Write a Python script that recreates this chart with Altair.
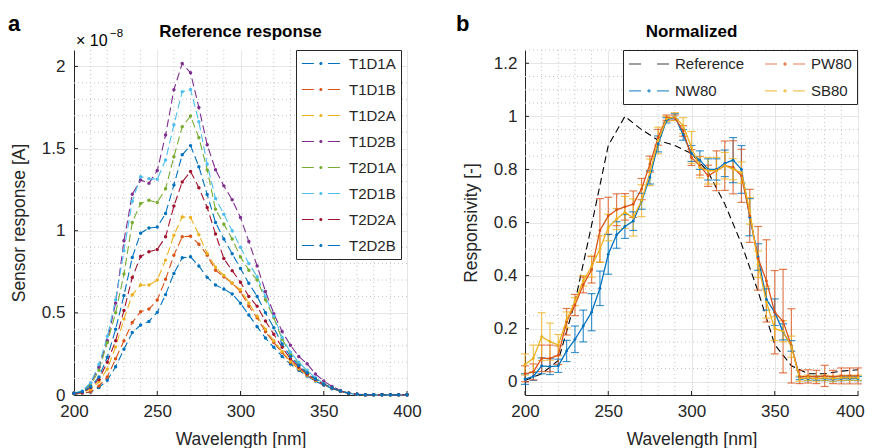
import altair as alt
import pandas as pd

FONT = "Liberation Sans"
TXT = "#262626"

# ---------------- data ----------------
wavelength = list(range(200, 405, 5))

sensor_names = ["T1D1A", "T1D1B", "T1D2A", "T1D2B", "T2D1A", "T2D1B", "T2D2A", "T2D2B"]
sensor_colors = ["#0072BD", "#D95319", "#EDB120", "#7E2F8E", "#77AC30", "#4DBEEE", "#A2142F", "#0072BD"]

t1d1a = [0.008, 0.012, 0.017, 0.045, 0.090, 0.172, 0.278, 0.380, 0.426, 0.448, 0.503, 0.611, 0.740, 0.835, 0.841,
         0.785, 0.716, 0.669, 0.645, 0.615, 0.558, 0.487, 0.416, 0.347, 0.290, 0.235, 0.188, 0.150, 0.115, 0.085,
         0.060, 0.038, 0.022, 0.010, 0.004, 0.002, 0.001, 0.001, 0.001, 0.001, 0.001]
t1d1b = [0.008, 0.012, 0.020, 0.055, 0.110, 0.220, 0.330, 0.442, 0.507, 0.523, 0.578, 0.704, 0.851, 0.963, 0.967,
         0.918, 0.851, 0.760, 0.720, 0.680, 0.630, 0.540, 0.470, 0.385, 0.320, 0.258, 0.200, 0.158, 0.120, 0.088,
         0.062, 0.040, 0.023, 0.010, 0.004, 0.002, 0.001, 0.001, 0.001, 0.001, 0.001]
t1d2a = [0.010, 0.015, 0.035, 0.080, 0.159, 0.293, 0.463, 0.610, 0.669, 0.669, 0.700, 0.821, 0.973, 1.084, 1.080,
         0.975, 0.861, 0.777, 0.728, 0.682, 0.640, 0.560, 0.480, 0.400, 0.330, 0.265, 0.205, 0.160, 0.122, 0.090,
         0.064, 0.041, 0.024, 0.011, 0.004, 0.002, 0.001, 0.001, 0.001, 0.001, 0.001]
t1d2b = [0.012, 0.020, 0.070, 0.170, 0.330, 0.560, 0.939, 1.222, 1.309, 1.289, 1.366, 1.582, 1.858, 2.018, 1.961,
         1.750, 1.523, 1.371, 1.273, 1.188, 1.080, 0.934, 0.785, 0.630, 0.495, 0.387, 0.303, 0.234, 0.190, 0.128,
         0.085, 0.052, 0.028, 0.012, 0.005, 0.002, 0.001, 0.001, 0.001, 0.001, 0.001]
t2d1a = [0.012, 0.020, 0.060, 0.150, 0.320, 0.500, 0.736, 1.050, 1.166, 1.185, 1.172, 1.255, 1.450, 1.633, 1.698,
         1.566, 1.370, 1.130, 1.040, 0.950, 0.840, 0.760, 0.700, 0.580, 0.470, 0.340, 0.250, 0.190, 0.140, 0.100,
         0.068, 0.043, 0.025, 0.011, 0.004, 0.002, 0.001, 0.001, 0.001, 0.001, 0.001]
t2d1b = [0.012, 0.025, 0.075, 0.185, 0.357, 0.580, 0.878, 1.180, 1.329, 1.317, 1.313, 1.430, 1.645, 1.846, 1.860,
         1.663, 1.405, 1.196, 1.100, 1.000, 0.900, 0.800, 0.720, 0.600, 0.480, 0.350, 0.260, 0.200, 0.150, 0.105,
         0.070, 0.044, 0.026, 0.011, 0.004, 0.002, 0.001, 0.001, 0.001, 0.001, 0.001]
t2d2a = [0.010, 0.015, 0.045, 0.095, 0.200, 0.330, 0.514, 0.715, 0.843, 0.872, 0.886, 0.963, 1.150, 1.297, 1.361,
         1.262, 1.141, 0.980, 0.831, 0.757, 0.686, 0.600, 0.540, 0.450, 0.370, 0.290, 0.220, 0.170, 0.128, 0.094,
         0.065, 0.042, 0.024, 0.011, 0.004, 0.002, 0.001, 0.001, 0.001, 0.001, 0.001]
t2d2b = [0.010, 0.020, 0.050, 0.110, 0.230, 0.400, 0.605, 0.837, 0.985, 1.016, 1.022, 1.105, 1.278, 1.462, 1.518,
         1.390, 1.220, 1.050, 0.950, 0.860, 0.770, 0.680, 0.600, 0.500, 0.410, 0.310, 0.235, 0.180, 0.135, 0.097,
         0.066, 0.042, 0.024, 0.011, 0.004, 0.002, 0.001, 0.001, 0.001, 0.001, 0.001]
sensor_values = [t1d1a, t1d1b, t1d2a, t1d2b, t2d1a, t2d1b, t2d2a, t2d2b]

ref_wavelength = list(range(200, 410, 10))
ref_values = [0.005, 0.030, 0.080, 0.300, 0.590, 0.890, 1.000, 0.950, 0.910, 0.890, 0.860, 0.790, 0.670,
              0.520, 0.340, 0.140, 0.060, 0.030, 0.030, 0.040, 0.045]

norm_names = ["Reference", "NW80", "PW80", "SB80"]
norm_colors = ["#000000", "#0072BD", "#D95319", "#EDB120"]

nw80 = [0.010, 0.020, 0.060, 0.057, 0.060, 0.116, 0.160, 0.210, 0.262, 0.352, 0.480, 0.553, 0.585, 0.605, 0.680,
        0.770, 0.896, 0.985, 1.000, 0.930, 0.860, 0.835, 0.800, 0.800, 0.823, 0.835, 0.800, 0.620, 0.470, 0.310,
        0.262, 0.188, 0.135, 0.013, 0.012, 0.013, 0.012, 0.010, 0.012, 0.013, 0.012]
nw80_err = [0.020, 0.015, 0.030, 0.030, 0.025, 0.040, 0.050, 0.060, 0.070, 0.065, 0.075, 0.050, 0.045, 0.035, 0.030,
            0.025, 0.030, 0.010, 0.010, 0.020, 0.030, 0.035, 0.040, 0.040, 0.050, 0.085, 0.090, 0.070, 0.050, 0.040,
            0.050, 0.030, 0.020, 0.005, 0.008, 0.008, 0.008, 0.008, 0.008, 0.008, 0.008]
pw80 = [0.030, 0.037, 0.088, 0.088, 0.100, 0.226, 0.289, 0.365, 0.422, 0.570, 0.625, 0.648, 0.659, 0.669, 0.726,
        0.820, 0.921, 0.995, 0.995, 0.945, 0.845, 0.814, 0.776, 0.795, 0.814, 0.808, 0.776, 0.625, 0.465, 0.380,
        0.262, 0.228, 0.135, 0.018, 0.020, 0.018, 0.022, 0.018, 0.022, 0.022, 0.022]
pw80_err = [0.030, 0.030, 0.050, 0.050, 0.035, 0.050, 0.040, 0.030, 0.050, 0.120, 0.070, 0.060, 0.050, 0.050, 0.040,
            0.030, 0.030, 0.010, 0.010, 0.020, 0.030, 0.035, 0.040, 0.075, 0.093, 0.100, 0.100, 0.100, 0.120, 0.155,
            0.157, 0.195, 0.140, 0.025, 0.025, 0.025, 0.040, 0.025, 0.030, 0.030, 0.030]
sb80 = [0.065, 0.088, 0.170, 0.151, 0.138, 0.233, 0.302, 0.380, 0.434, 0.500, 0.581, 0.613, 0.638, 0.619, 0.682,
        0.789, 0.909, 0.990, 0.999, 0.965, 0.883, 0.808, 0.795, 0.795, 0.814, 0.801, 0.788, 0.644, 0.443, 0.300,
        0.200, 0.190, 0.132, 0.012, 0.015, 0.012, 0.015, 0.012, 0.015, 0.015, 0.015]
sb80_err = [0.040, 0.050, 0.090, 0.070, 0.040, 0.030, 0.015, 0.020, 0.040, 0.050, 0.050, 0.040, 0.060, 0.070, 0.060,
            0.050, 0.050, 0.010, 0.015, 0.030, 0.060, 0.040, 0.050, 0.050, 0.050, 0.040, 0.040, 0.050, 0.050, 0.060,
            0.045, 0.040, 0.040, 0.010, 0.010, 0.010, 0.010, 0.010, 0.010, 0.010, 0.010]

x_ticks = [200, 250, 300, 350, 400]
x_minor = [v for v in range(210, 400, 10) if v % 50 != 0]
yl_ticks = [0, 0.5, 1, 1.5, 2]
yl_minor = [round(i * 0.1, 2) for i in range(1, 21) if i % 5 != 0]
yr_ticks = [0, 0.2, 0.4, 0.6, 0.8, 1.0, 1.2]
yr_minor = [round(i * 0.05, 2) for i in range(1, 26) if i % 4 != 0]

# ---------------- tables ----------------
left_rows = []
for name, vals in zip(sensor_names, sensor_values):
    for w, v in zip(wavelength, vals):
        left_rows.append({"wl": w, "sensor": name, "value": v})
left_df = pd.DataFrame(left_rows)

ref_df = pd.DataFrame({"wl": ref_wavelength, "series": "Reference", "value": ref_values})
norm_rows = []
for name, vals, errs in [("NW80", nw80, nw80_err), ("PW80", pw80, pw80_err), ("SB80", sb80, sb80_err)]:
    for w, v, e in zip(wavelength, vals, errs):
        norm_rows.append({"wl": w, "series": name, "value": v, "lo": v - e, "hi": v + e})
norm_df = pd.DataFrame(norm_rows)

W, H = 333, 345

xs = alt.Scale(domain=[200, 400], nice=False, zero=False)
ysl = alt.Scale(domain=[0, 2.1], nice=False, zero=False)
ysr = alt.Scale(domain=[-0.05, 1.25], nice=False, zero=False)


def XL(field):
    return alt.X(field, type="quantitative", scale=xs,
                 axis=alt.Axis(values=x_ticks, title="Wavelength [nm]", format="d", grid=True,
                               labelFlush=False, labelPadding=8, titlePadding=11))


def XR(field):
    # the last label is nudged slightly inward so the figure fits the page width
    return alt.X(field, type="quantitative", scale=xs,
                 axis=alt.Axis(values=x_ticks, title="Wavelength [nm]", format="d", grid=True,
                               labelFlush=False, labelPadding=8, titlePadding=11,
                               labelOffset={"condition": {"test": "datum.value == 400", "value": -8},
                                            "value": 0}))


def YL(field):
    return alt.Y(field, type="quantitative", scale=ysl,
                 axis=alt.Axis(values=yl_ticks, format="~g", title="Sensor response [A]", grid=True,
                               labelPadding=9, titlePadding=13))


def YR(field):
    return alt.Y(field, type="quantitative", scale=ysr,
                 axis=alt.Axis(values=yr_ticks, format="~g", title="Responsivity [-]", grid=True,
                               labelPadding=8, titlePadding=13))


minor_style = dict(color="#c4c4c4", strokeDash=[1, 3], strokeWidth=1)


def minor_grid(xvals, yvals, Xf, Yf):
    gx = alt.Chart(pd.DataFrame({"v": xvals})).mark_rule(**minor_style).encode(x=Xf("v"))
    gy = alt.Chart(pd.DataFrame({"v": yvals})).mark_rule(**minor_style).encode(y=Yf("v"))
    tx = alt.Chart(pd.DataFrame({"v": x_ticks})).mark_rule(color=TXT, strokeWidth=1).encode(
        x=Xf("v"), y=alt.value(H), y2=alt.value(H - 4))
    return gx, gy, tx


def yticks(vals, Yf):
    return alt.Chart(pd.DataFrame({"v": vals})).mark_rule(color=TXT, strokeWidth=1).encode(
        y=Yf("v"), x=alt.value(0), x2=alt.value(4))


def label(text, x, y, size, weight="bold", align="left"):
    return alt.Chart(pd.DataFrame({"t": [text]})).mark_text(
        font=FONT, fontSize=size, fontWeight=weight, align=align, baseline="alphabetic", color="#000000"
    ).encode(text="t:N", x=alt.value(x), y=alt.value(y))


# legend symbols: a long dashed stroke starting at the symbol origin, with a small dot in the middle
LEG_LINE = "M-1,0H4"
LEG_DOT = "M-1,0H4M1.37,0A0.13,0.13,0,1,1,1.63,0A0.13,0.13,0,1,1,1.37,0"

# ---------------- left panel ----------------
lcolor = alt.Scale(domain=sensor_names, range=sensor_colors)
gx, gy, tx = minor_grid(x_minor, yl_minor, XL, YL)
l_lines = alt.Chart(left_df).mark_line(strokeDash=[8, 4], strokeWidth=1.1).encode(
    x=XL("wl"), y=YL("value"),
    color=alt.Color("sensor:N", scale=lcolor, sort=sensor_names,
                    legend=alt.Legend(title=None, orient="none", legendX=222, legendY=0,
                                      symbolType=LEG_DOT, symbolSize=231, symbolDash=[12, 14],
                                      symbolStrokeWidth=1.2, symbolOpacity=1, labelFontSize=15,
                                      labelFont=FONT, labelColor=TXT, labelOffset=31, padding=5,
                                      rowPadding=9, strokeColor="#262626", fillColor="white")),
)
l_pts = alt.Chart(left_df).mark_circle(size=12, opacity=1).encode(
    x=XL("wl"), y=YL("value"), color=alt.Color("sensor:N", scale=lcolor, sort=sensor_names))

left = alt.layer(
    gx, gy, tx, yticks(yl_ticks, YL), l_lines, l_pts,
    label("Reference response", W / 2, -13, 17, align="center"),
    label("a", -66, -19, 22),
    label("\u00d7 10", 2, -4, 16, weight="normal"),
    label("\u22128", 36, -13, 11.5, weight="normal"),
).properties(width=W, height=H)

# ---------------- right panel ----------------
rcolor = alt.Scale(domain=norm_names, range=norm_colors)
gx2, gy2, tx2 = minor_grid(x_minor, yr_minor, XR, YR)
shape_expr = "datum.value === 'Reference' ? '" + LEG_LINE + "' : '" + LEG_DOT + "'"
r_ref = alt.Chart(ref_df).mark_line(strokeDash=[7, 4], strokeWidth=1.1).encode(
    x=XR("wl"), y=YR("value"),
    color=alt.Color("series:N", scale=rcolor,
                    sort=["Reference", "PW80", "NW80", "SB80"],
                    legend=alt.Legend(title=None, orient="none", legendX=98, legendY=0, columns=2,
                                      columnPadding=17,
                                      symbolType={"expr": shape_expr}, symbolSize=256, symbolDash=[12, 16],
                                      symbolStrokeWidth=1.2, symbolOpacity=1, labelFontSize=15,
                                      labelFont=FONT, labelColor=TXT, labelOffset=29, padding=5,
                                      rowPadding=9.8, strokeColor="#262626", fillColor="white")),
)
r_err = alt.Chart(norm_df).mark_rule(strokeWidth=1.2, opacity=0.75).encode(
    x=XR("wl"), y=YR("lo"), y2="hi:Q", color=alt.Color("series:N", scale=rcolor))
r_cap_lo = alt.Chart(norm_df).mark_tick(orient="horizontal", size=8, thickness=1.2, opacity=0.75).encode(
    x=XR("wl"), y=YR("lo"), color=alt.Color("series:N", scale=rcolor))
r_cap_hi = alt.Chart(norm_df).mark_tick(orient="horizontal", size=8, thickness=1.2, opacity=0.75).encode(
    x=XR("wl"), y=YR("hi"), color=alt.Color("series:N", scale=rcolor))
r_lines = alt.Chart(norm_df).mark_line(strokeWidth=1.3).encode(
    x=XR("wl"), y=YR("value"), color=alt.Color("series:N", scale=rcolor))
r_pts = alt.Chart(norm_df).mark_circle(size=8, opacity=1).encode(
    x=XR("wl"), y=YR("value"), color=alt.Color("series:N", scale=rcolor))

right = alt.layer(
    gx2, gy2, tx2, yticks(yr_ticks, YR), r_ref, r_err, r_cap_lo, r_cap_hi, r_lines, r_pts,
    label("Normalized", W / 2, -13, 17, align="center"),
    label("b", -69, -19, 22),
).properties(width=W, height=H)

chart = alt.hconcat(left, right, spacing=34).resolve_scale(color="independent").properties(
    padding={"left": 0, "top": 5, "right": 0, "bottom": 0}
).configure_view(stroke=None).configure_axis(
    labelFont=FONT, titleFont=FONT, labelFontSize=17, titleFontSize=17.5, titleFontWeight="normal",
    labelColor=TXT, titleColor=TXT, domainColor=TXT, domainWidth=1, ticks=False,
    gridColor="#e6e6e6", gridWidth=1,
)

chart.save("out.html", embed_options={"renderer": "svg", "actions": False})
